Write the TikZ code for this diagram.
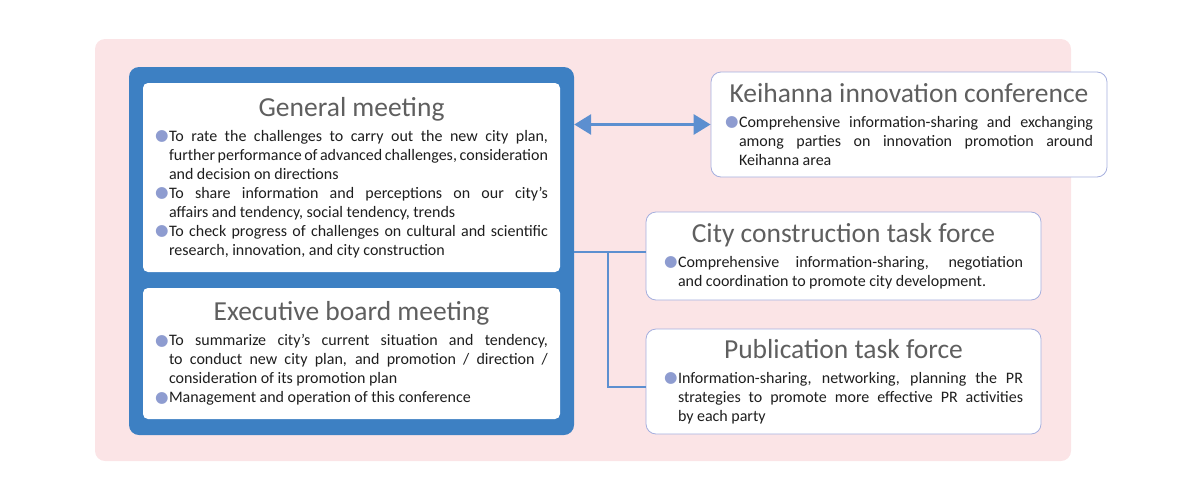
\documentclass[tikz,border=0pt]{standalone}
\usepackage{fontspec}
\setmainfont{Carlito}
\setsansfont{Carlito}
\newfontfamily\symfont{DejaVu Sans}
\usetikzlibrary{positioning, arrows.meta, calc}

\definecolor{bgpink}{RGB}{251,228,230}
\definecolor{frameblue}{RGB}{61,128,195}
\definecolor{linkblue}{RGB}{92,143,208}
\definecolor{edgeblue}{RGB}{165,175,222}
\definecolor{titlegray}{RGB}{95,95,95}
\definecolor{dotblue}{RGB}{142,156,208}
\definecolor{bodyblack}{RGB}{30,30,30}

\hyphenpenalty=10000
\exhyphenpenalty=10000
\newcommand{\boxtitle}[1]{{\centering\spaceskip=0pt\fontsize{27.5}{30}\selectfont\color{titlegray}#1\par}\vspace{6pt}}
\newcommand{\bulitem}[1]{\par\noindent\hangindent=14pt\hangafter=1\makebox[14pt][l]{\raisebox{0.5pt}{\textcolor{dotblue}{\symfont\fontsize{15.5}{16}\selectfont●}}}#1\par}
\newcommand{\bodysize}{\fontsize{16}{19}\selectfont\spaceskip=0.22em plus 0.5em minus 0.1em\relax}

\begin{document}
\begin{tikzpicture}[
  x=1pt, y=-1pt,
  font=\sffamily,
  meetbox/.style={fill=white, rounded corners=5pt, align=justify, inner xsep=12pt, inner ysep=4pt,
    font=\sffamily\bodysize, text=bodyblack},
  taskbox/.style={draw=edgeblue, fill=white, rounded corners=10pt, line width=0.8pt, align=justify,
    inner xsep=14pt, inner ysep=4pt, font=\sffamily\bodysize, text=bodyblack},
  twoway/.style={{Triangle[length=17pt,width=20pt]}-{Triangle[length=17pt,width=20pt]}, line width=3pt, draw=linkblue},
  link/.style={line width=2pt, draw=linkblue}
]
\useasboundingbox (0,0) rectangle (1201,490);

% pink ground and blue frame
\node[fill=bgpink, rounded corners=10pt, minimum width=976pt, minimum height=422pt, inner sep=0pt] (ground) at (583,250) {};
\node[fill=frameblue, rounded corners=10pt, minimum width=445pt, minimum height=368pt, inner sep=0pt] (frame) at (351.5,251) {};

% the two meetings
\node[meetbox, text width=393pt, minimum width=417pt, minimum height=189pt] (general) at (351.5,177.5) {%
  \boxtitle{General meeting}%
  \bulitem{To rate the challenges to carry out the new city plan,\linebreak further performance of advanced challenges, consideration\linebreak and decision on directions}%
  \bulitem{To share information and perceptions on our city's\linebreak affairs and tendency, social tendency, trends}%
  \bulitem{To check progress of challenges on cultural and scientific\linebreak research, innovation, and city construction}};
\node[meetbox, text width=393pt, minimum width=417pt, minimum height=131pt] (exec) at (351.5,353.5) {%
  \boxtitle{Executive board meeting}%
  \bulitem{To summarize city's current situation and tendency,\linebreak to conduct new city plan, and promotion / direction /\linebreak consideration of its promotion plan}%
  \bulitem{Management and operation of this conference}};

% partners on the right
\node[taskbox, text width=368pt, minimum width=396pt, minimum height=105pt] (keihanna) at (909,124.5) {%
  \boxtitle{Keihanna innovation conference}%
  \bulitem{Comprehensive information-sharing and exchanging\linebreak among parties on innovation promotion around\linebreak Keihanna area}};
\node[taskbox, text width=359pt, minimum width=395pt, minimum height=88pt] (city) at (843.5,256) {%
  \boxtitle{City construction task force}%
  \bulitem{Comprehensive information-sharing, negotiation\linebreak and coordination to promote city development.}};
\node[taskbox, text width=359pt, minimum width=395pt, minimum height=105pt] (pub) at (843.5,381.5) {%
  \boxtitle{Publication task force}%
  \bulitem{Information-sharing, networking, planning the PR\linebreak strategies to promote more effective PR activities\linebreak by each party}};

% connectors
\draw[twoway] (keihanna.west -| frame.east) -- (keihanna.west);
\coordinate (branch) at (608,252);
\draw[link] ([yshift=4pt]city.west -| frame.east) -- ([yshift=4pt]city.west);
\draw[link] (branch) |- ([yshift=-5.5pt]pub.west);

\end{tikzpicture}
\end{document}
